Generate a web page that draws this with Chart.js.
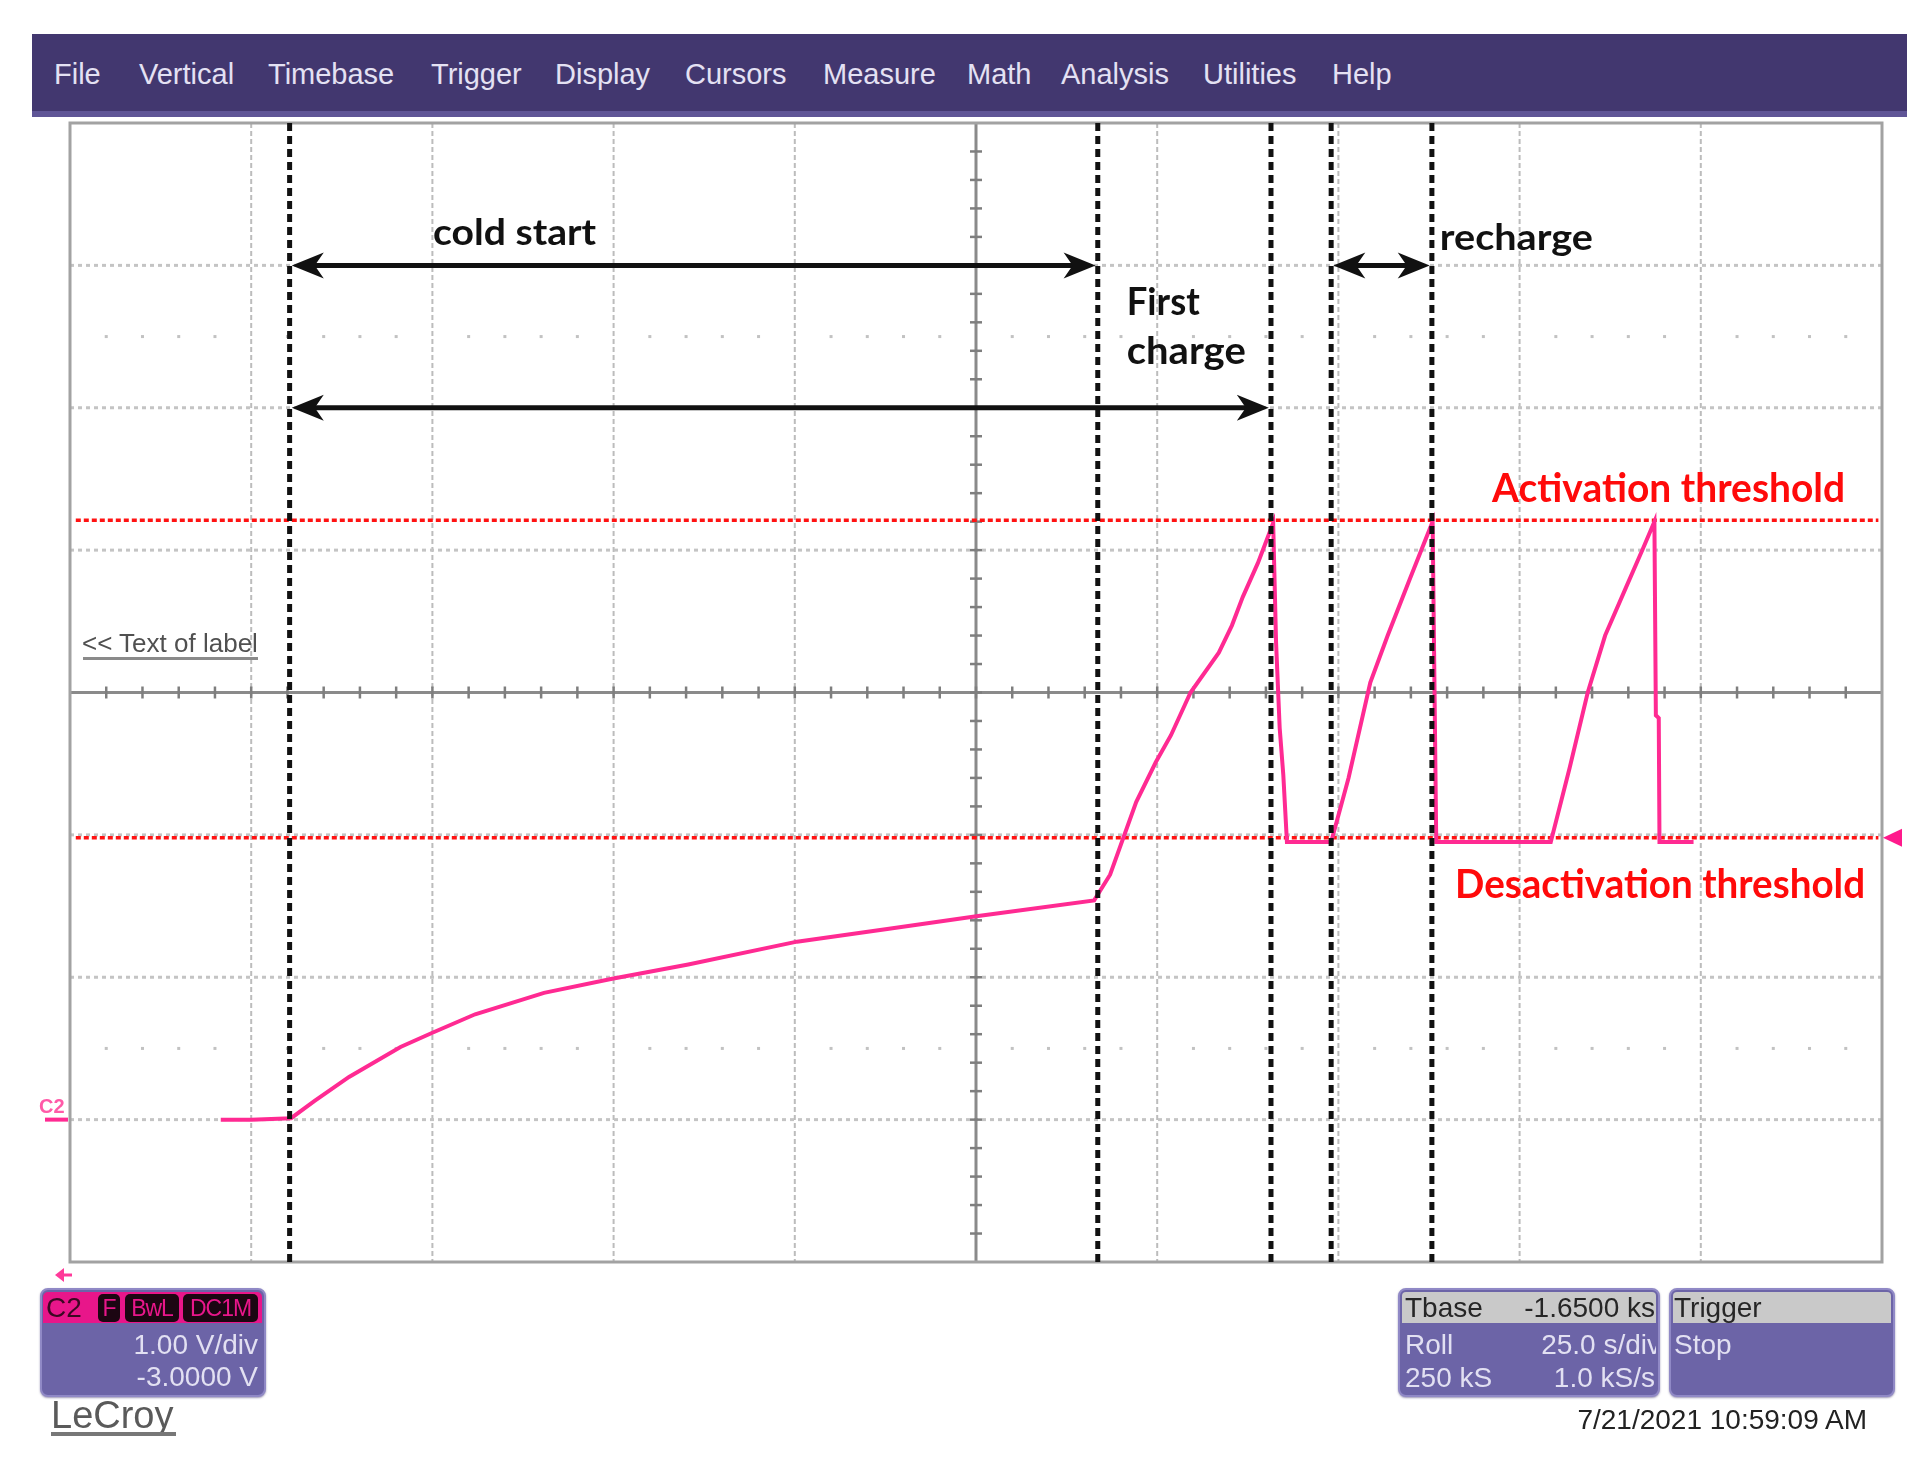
<!DOCTYPE html>
<html>
<head>
<meta charset="utf-8">
<script src="https://cdn.jsdelivr.net/npm/chart.js@4/dist/chart.umd.min.js"></script>
<style>
html,body{margin:0;padding:0;background:#fff;width:1925px;height:1463px;overflow:hidden;font-family:"Liberation Sans",Arial,sans-serif;}
#c{position:absolute;left:0;top:0;}
.abs{position:absolute;white-space:nowrap;}
#menubar{left:32px;top:34px;width:1875px;height:83px;background:#42376f;border-bottom:6px solid #5f5596;box-sizing:border-box;}
.menu{top:34px;line-height:80px;font-size:29px;color:#e4e1f3;}
.panel{background:#6c64a7;border:2px solid #9089c6;border-radius:8px;box-sizing:border-box;box-shadow:0 1px 2px rgba(60,50,110,.5);}
.ptxt{font-size:28px;color:#e2e0f2;line-height:30px;}
.htxt{font-size:28px;color:#262626;line-height:31px;}
.tag{top:1294px;height:28px;background:#1c0612;border-radius:5px;color:#e8168a;font-size:23px;line-height:28px;text-align:center;letter-spacing:-1px;}
</style>
</head>
<body>
<canvas id="c" width="1925" height="1463"></canvas>

<div id="menubar" class="abs"></div>
<div class="abs menu" style="left:54px">File</div>
<div class="abs menu" style="left:139px">Vertical</div>
<div class="abs menu" style="left:268px">Timebase</div>
<div class="abs menu" style="left:431px">Trigger</div>
<div class="abs menu" style="left:555px">Display</div>
<div class="abs menu" style="left:685px">Cursors</div>
<div class="abs menu" style="left:823px">Measure</div>
<div class="abs menu" style="left:967px">Math</div>
<div class="abs menu" style="left:1061px">Analysis</div>
<div class="abs menu" style="left:1203px">Utilities</div>
<div class="abs menu" style="left:1332px">Help</div>

<div class="abs" style="left:82px;top:628px;font-size:26px;line-height:30px;color:#505050;">&lt;&lt; Text of label</div>
<div class="abs" style="left:83px;top:657px;width:175px;height:3px;background:#8a8a8a;"></div>

<!-- C2 panel -->
<div class="abs panel" style="left:40px;top:1288px;width:226px;height:109px;"></div>
<div class="abs" style="left:43px;top:1292px;width:219px;height:31px;background:#e8168a;border-radius:5px 5px 0 0;"></div>
<div class="abs htxt" style="left:46px;top:1292px;color:#3a0822;">C2</div>
<div class="abs tag" style="left:98px;width:22px;">F</div>
<div class="abs tag" style="left:125px;width:54px;">BwL</div>
<div class="abs tag" style="left:183px;width:75px;">DC1M</div>
<div class="abs ptxt" style="left:40px;width:218px;text-align:right;top:1330px;">1.00 V/div</div>
<div class="abs ptxt" style="left:40px;width:218px;text-align:right;top:1362px;">-3.0000 V</div>

<div class="abs" style="left:51px;top:1396px;font-size:38px;line-height:38px;color:#5a5a5a;">LeCroy</div>
<div class="abs" style="left:51px;top:1432px;width:125px;height:4px;background:#777;"></div>

<!-- Tbase panel -->
<div class="abs panel" style="left:1398px;top:1288px;width:262px;height:109px;"></div>
<div class="abs" style="left:1402px;top:1292px;width:254px;height:31px;background:#c9c9c9;border-radius:4px 4px 0 0;"></div>
<div class="abs htxt" style="left:1405px;top:1292px;">Tbase</div>
<div class="abs htxt" style="left:1402px;width:253px;text-align:right;top:1292px;">-1.6500 ks</div>
<div class="abs ptxt" style="left:1405px;top:1330px;">Roll</div>
<div class="abs" style="left:1402px;top:1330px;width:254px;height:32px;overflow:hidden;">
  <div class="abs ptxt" style="right:-5px;top:0;">25.0 s/div</div>
</div>
<div class="abs ptxt" style="left:1405px;top:1363px;">250 kS</div>
<div class="abs ptxt" style="left:1402px;width:253px;text-align:right;top:1363px;">1.0 kS/s</div>

<!-- Trigger panel -->
<div class="abs panel" style="left:1669px;top:1288px;width:226px;height:109px;"></div>
<div class="abs" style="left:1673px;top:1292px;width:218px;height:31px;background:#c9c9c9;border-radius:4px 4px 0 0;"></div>
<div class="abs htxt" style="left:1674px;top:1292px;">Trigger</div>
<div class="abs ptxt" style="left:1674px;top:1330px;">Stop</div>

<div class="abs" style="right:58px;top:1405px;font-size:28px;line-height:30px;color:#222;">7/21/2021 10:59:09 AM</div>

<script>
// ---- scope settings ----
const timeMin = 0, timeMax = 250, timePerDiv = 25;      // seconds (25.0 s/div, 10 div)
const voltMin = -1, voltMax = 7, voltPerDiv = 1;         // volts (1.00 V/div, offset -3 V)
const centerTime = 125, centerVolt = 3;

// ---- C2 trace (time s, volts) ----
const sigT = [20.8, 25.0, 30.5, 33.7, 38.5, 45.6, 50.0, 55.9, 65.4, 74.8, 85.3, 100.3, 113.0, 125.3, 141.3,
              143.5, 147.1, 149.8, 151.9, 154.6, 158.5, 160.3, 161.8, 163.9, 166.0,
              166.4, 166.9, 167.4, 167.9, 174.0,
              176.4, 179.4, 181.8, 184.8, 188.0, 188.5, 204.3,
              206.9, 209.4, 211.8, 214.7, 217.1, 218.6, 218.8, 219.2, 219.3, 224.0];
const sigV = [0.00, 0.00, 0.01, 0.13, 0.30, 0.51, 0.61, 0.74, 0.89, 0.99, 1.09, 1.25, 1.34, 1.43, 1.54,
              1.72, 2.23, 2.51, 2.70, 3.00, 3.28, 3.47, 3.67, 3.91, 4.19,
              3.35, 2.75, 2.42, 1.95, 1.95,
              2.40, 3.07, 3.40, 3.79, 4.20, 1.95, 1.95,
              2.47, 3.00, 3.40, 3.74, 4.02, 4.20, 2.84, 2.82, 1.95, 1.95];

// ---- thresholds ----
const thrT = [0.8, 249.5];
const activationV = [4.21, 4.21];
const deactivationV = [1.98, 1.98];

// ---- cursors (s) ----
const cursorT = [30.3, 141.8, 165.7, 174.0, 187.9];

// ---- double arrows ----
const arrowFrom = [30.6, 30.6, 174.3];
const arrowTo = [141.5, 165.4, 187.6];
const arrowV = [6, 5, 6];

// ---- annotation labels ----
const noteText = ["cold start", "First", "charge", "recharge", "Activation threshold", "Desactivation threshold"];
const noteT = [50.1, 145.8, 145.8, 189.0, 196.2, 191.1];
const noteV = [6.14, 5.65, 5.31, 6.11, 4.34, 1.56];

// ---- styles ----
const noteStyle = [
  {size: 36, width: 163, color: '#111'},
  {size: 38, width: 73, color: '#111'},
  {size: 38, width: 119, color: '#111'},
  {size: 36, width: 153, color: '#111'},
  {size: 41, width: 353, color: '#ff0a0a'},
  {size: 41, width: 410, color: '#ff0a0a'}
];
const traceColor = '#ff2a92';
const gridColor = '#bcbcbc';
const axisColor = '#8a8a8a';

function pts(xs, ys) { return xs.map((t, i) => ({x: t, y: ys[i]})); }

const scopePlugin = {
  id: 'scope',
  beforeDatasetsDraw(chart) {
    const {ctx, chartArea: a, scales: {x, y}} = chart;
    ctx.save();
    // vertical dashed grid
    ctx.strokeStyle = gridColor; ctx.lineWidth = 2; ctx.setLineDash([5, 3]);
    for (let t = timeMin + timePerDiv; t < timeMax; t += timePerDiv) {
      if (t === centerTime) continue;
      const px = x.getPixelForValue(t);
      ctx.beginPath(); ctx.moveTo(px, a.top); ctx.lineTo(px, a.bottom); ctx.stroke();
    }
    // horizontal dotted grid
    ctx.strokeStyle = '#c4c4c4'; ctx.lineWidth = 3; ctx.setLineDash([4, 4]);
    for (let v = voltMin + voltPerDiv; v < voltMax; v += voltPerDiv) {
      if (v === centerVolt) continue;
      const py = y.getPixelForValue(v);
      ctx.beginPath(); ctx.moveTo(a.left, py); ctx.lineTo(a.right, py); ctx.stroke();
    }
    ctx.setLineDash([]);
    // half-division dot rows
    ctx.fillStyle = '#c2c2c2';
    [voltMax - 1.5, voltMin + 1.5].forEach(v => {
      const py = y.getPixelForValue(v);
      for (let k = 1; k < 50; k++) {
        if (k % 5 === 0) continue;
        const px = x.getPixelForValue(k * timePerDiv / 5);
        ctx.fillRect(px - 1.5, py - 1.5, 3, 3);
      }
    });
    // center axes
    const cx = x.getPixelForValue(centerTime), cy = y.getPixelForValue(centerVolt);
    ctx.strokeStyle = axisColor; ctx.lineWidth = 3;
    ctx.beginPath(); ctx.moveTo(a.left, cy); ctx.lineTo(a.right, cy); ctx.stroke();
    ctx.beginPath(); ctx.moveTo(cx, a.top); ctx.lineTo(cx, a.bottom); ctx.stroke();
    ctx.strokeStyle = '#7e7e7e'; ctx.lineWidth = 2.5;
    for (let k = 1; k < 50; k++) {
      const px = x.getPixelForValue(k * timePerDiv / 5);
      ctx.beginPath(); ctx.moveTo(px, cy - 6); ctx.lineTo(px, cy + 6); ctx.stroke();
    }
    for (let k = 1; k < 40; k++) {
      const py = y.getPixelForValue(voltMin + k * voltPerDiv / 5);
      ctx.beginPath(); ctx.moveTo(cx - 6, py); ctx.lineTo(cx + 6, py); ctx.stroke();
    }
    // border
    ctx.strokeStyle = '#a2a2a2'; ctx.lineWidth = 3;
    ctx.strokeRect(a.left, a.top, a.right - a.left, a.bottom - a.top);
    ctx.restore();
  },
  afterDatasetsDraw(chart) {
    const {ctx, chartArea: a, scales: {x, y}} = chart;
    ctx.save();
    // cursors
    ctx.strokeStyle = '#111'; ctx.lineWidth = 5; ctx.setLineDash([8, 5]);
    cursorT.forEach(t => {
      const px = x.getPixelForValue(t);
      ctx.beginPath(); ctx.moveTo(px, a.top); ctx.lineTo(px, a.bottom); ctx.stroke();
    });
    ctx.setLineDash([]);
    // arrows
    ctx.strokeStyle = '#111'; ctx.fillStyle = '#111'; ctx.lineWidth = 5;
    arrowFrom.forEach((t0, i) => {
      const x1 = x.getPixelForValue(t0), x2 = x.getPixelForValue(arrowTo[i]), py = y.getPixelForValue(arrowV[i]);
      ctx.beginPath(); ctx.moveTo(x1 + 18, py); ctx.lineTo(x2 - 18, py); ctx.stroke();
      [[x1, 1], [x2, -1]].forEach(([tip, d]) => {
        ctx.beginPath();
        ctx.moveTo(tip, py);
        ctx.lineTo(tip + d * 32, py - 13);
        ctx.lineTo(tip + d * 23, py);
        ctx.lineTo(tip + d * 32, py + 13);
        ctx.closePath(); ctx.fill();
      });
    });
    // labels
    noteText.forEach((txt, i) => {
      const st = noteStyle[i];
      ctx.font = 'bold ' + st.size + 'px Lato, "Open Sans", sans-serif';
      ctx.fillStyle = st.color; ctx.textBaseline = 'alphabetic'; ctx.textAlign = 'left';
      const w = ctx.measureText(txt).width;
      const px = x.getPixelForValue(noteT[i]), py = y.getPixelForValue(noteV[i]);
      ctx.save(); ctx.translate(px, py); ctx.scale(st.width / w, 1); ctx.fillText(txt, 0, 0); ctx.restore();
    });
    // C2 ground marker and label
    const gy = y.getPixelForValue(0);
    ctx.strokeStyle = traceColor; ctx.lineWidth = 4;
    ctx.beginPath(); ctx.moveTo(a.left - 25, gy); ctx.lineTo(a.left - 2, gy); ctx.stroke();
    ctx.fillStyle = '#ff5aa8'; ctx.font = 'bold 20px "Liberation Sans", Arial, sans-serif';
    ctx.fillText('C2', a.left - 31, gy - 7);
    // trigger level marker
    const ty = y.getPixelForValue(deactivationV[0]);
    ctx.fillStyle = '#ff1a8c';
    ctx.beginPath(); ctx.moveTo(a.right + 1, ty); ctx.lineTo(a.right + 20, ty - 9); ctx.lineTo(a.right + 20, ty + 9); ctx.closePath(); ctx.fill();
    // small arrow under the grid
    const ay = a.bottom + 13;
    ctx.strokeStyle = '#ff3a9a'; ctx.fillStyle = '#ff3a9a'; ctx.lineWidth = 3;
    ctx.beginPath(); ctx.moveTo(a.left + 2, ay); ctx.lineTo(a.left - 8, ay); ctx.stroke();
    ctx.beginPath(); ctx.moveTo(a.left - 15, ay); ctx.lineTo(a.left - 6, ay - 7); ctx.lineTo(a.left - 6, ay + 7); ctx.closePath(); ctx.fill();
    ctx.restore();
  }
};

new Chart(document.getElementById('c').getContext('2d'), {
  type: 'line',
  data: {
    datasets: [
      {label: 'C2', data: pts(sigT, sigV), borderColor: traceColor, borderWidth: 4, pointRadius: 0, tension: 0, fill: false},
      {label: 'Activation threshold', data: pts(thrT, activationV), borderColor: '#ff1212', borderWidth: 3.5, borderDash: [5, 3], pointRadius: 0, fill: false},
      {label: 'Desactivation threshold', data: pts(thrT, deactivationV), borderColor: '#ff1212', borderWidth: 3.5, borderDash: [5, 3], pointRadius: 0, fill: false}
    ]
  },
  options: {
    responsive: false, animation: false, devicePixelRatio: 1, events: [],
    layout: {padding: {left: 70, right: 43, top: 123, bottom: 201}},
    plugins: {legend: {display: false}, tooltip: {enabled: false}},
    scales: {
      x: {type: 'linear', min: timeMin, max: timeMax, display: false},
      y: {type: 'linear', min: voltMin, max: voltMax, display: false}
    }
  },
  plugins: [scopePlugin]
});
</script>
</body>
</html>
